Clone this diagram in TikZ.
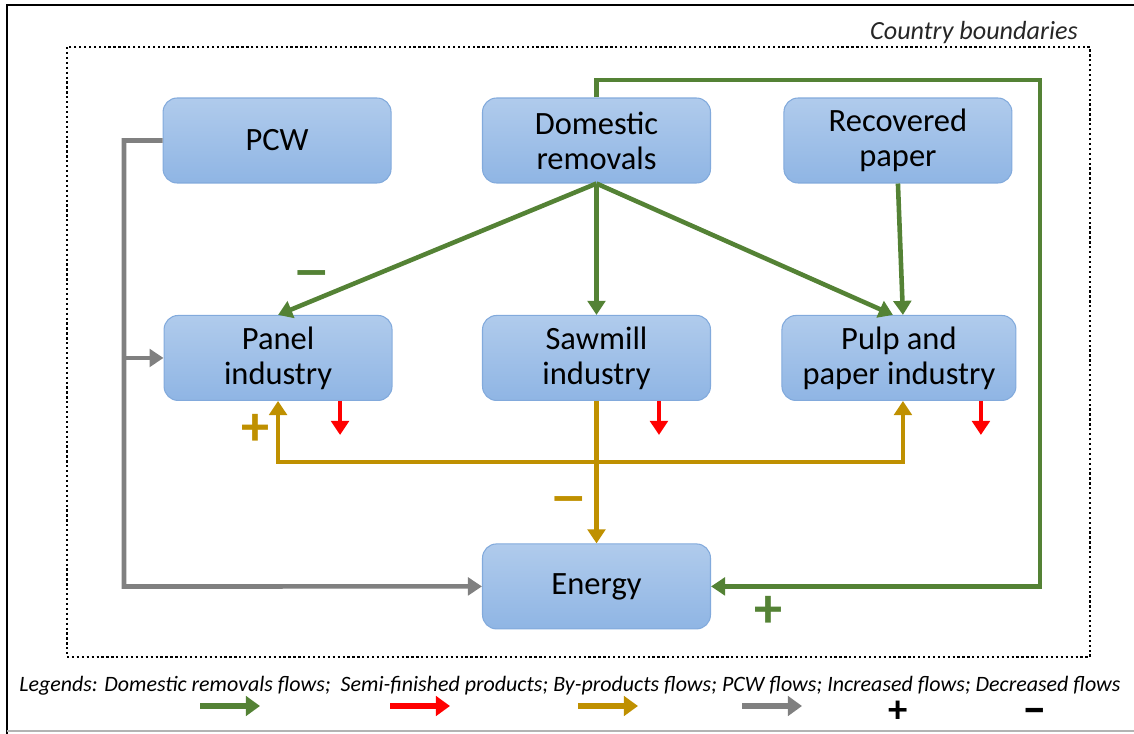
\documentclass[tikz,border=0pt]{standalone}
\usepackage{fontspec}
\setmainfont{Carlito}
\usetikzlibrary{arrows.meta}

\definecolor{boxtop}{RGB}{176,203,236}
\definecolor{boxbot}{RGB}{143,181,228}
\definecolor{boxline}{RGB}{130,170,220}
\definecolor{drgreen}{RGB}{84,130,53}
\definecolor{bygold}{RGB}{191,144,0}
\definecolor{pcwgray}{RGB}{128,128,128}

\begin{document}
\begin{tikzpicture}[x=0.02cm, y=-0.02cm, line width=2.6pt,
    >={Triangle[length=8pt,width=10pt]},
    sector/.style={rectangle, rounded corners=8pt, top color=boxtop, bottom color=boxbot,
        draw=boxline, line width=0.6pt, minimum width=4.56cm, minimum height=1.7cm,
        align=center, font=\fontsize{18.5}{20}\selectfont},
    dr flow/.style={draw=drgreen, ->},
    semi flow/.style={draw=red, ->},
    by flow/.style={draw=bygold, ->},
    pcw flow/.style={draw=pcwgray, ->},
    sign/.style={font=\fontsize{32}{32}\selectfont\bfseries, inner sep=0pt,
        text height=20pt, text depth=0pt},
    dash sign/.style={font=\fontsize{44}{44}\selectfont, inner sep=0pt,
        text height=26pt, text depth=0pt},
    key arrow/.style={line width=3.6pt, -{Triangle[length=8pt,width=11pt]}}]

    % frame and country boundaries
    \useasboundingbox (0,0) rectangle (1134,734);
    \draw[line width=1.6pt] (7,734) -- (7,5) -- (1134,5);
    \draw[pcwgray!60, line width=0.8pt] (7,731) -- (1134,731);
    \draw[line width=1.3pt, dash pattern=on 1.3pt off 1.5pt] (67,47) rectangle (1090,657);
    \node (bound) at (974,33) [font=\fontsize{14.9}{16}\selectfont\itshape, text=black!85] {Country boundaries};

    % sectors
    \node (dom) at (596.5,140.5) [sector] {Domestic\\removals};
    \node (pcw) [sector, left of=dom, node distance=6.39cm] {PCW};
    \node (rec) [sector, right of=dom, node distance=6.03cm] {Recovered\\paper};
    \node (saw) [sector, below of=dom, node distance=4.35cm] {Sawmill\\industry};
    \node (pan) [sector, left of=saw, node distance=6.37cm] {Panel\\industry};
    \node (pulp) [sector, right of=saw, node distance=6.05cm, minimum width=4.68cm] {Pulp and\\paper industry};
    \node (ener) [sector, below of=saw, node distance=4.57cm] {Energy};

    \coordinate (loop) at (1040,80);
    \coordinate (bus) at (124,586.5);
    \coordinate (byp) at (596.5,462);

    % domestic removals flows
    \draw[dr flow] (dom.south) -- (pan.north);
    \draw[dr flow] (dom.south) -- (saw.north);
    \draw[dr flow] (dom.south) -- ([xshift=-0.12cm]pulp.north);
    \draw[dr flow] (rec.south) -- ([xshift=0.08cm]pulp.north);
    \draw[dr flow] (dom.north) |- (loop) |- (ener.east);

    % PCW flows
    \draw[pcw flow] (pcw.west) -| (bus) -- (ener.west);
    \draw[pcw flow] (bus |- pan.west) -- (pan.west);

    % by-products flows
    \draw[by flow] (saw.south) -- (ener.north);
    \draw[by flow] (byp) -| (pan.south);
    \draw[by flow] (byp) -| ([xshift=0.08cm]pulp.south);

    % semi-finished products
    \foreach \n/\dx in {pan/1.24, saw/1.25, pulp/1.64}
        \draw[semi flow] ([xshift=\dx cm]\n.south) -- ++(0,34);

    % increased / decreased
    \node (dr minus) at (312,272) [dash sign, text=drgreen] {–};
    \node (by plus) at (256,428) [sign, text=bygold] {+};
    \node (by minus) at (569,498) [dash sign, text=bygold] {–};
    \node (dr plus) at (768,610) [sign, text=drgreen] {+};

    % legend
    \node (legend) at (17,686) [anchor=west, inner sep=0pt, font=\fontsize{12.5}{14}\selectfont\itshape]
        {Legends: Domestic removals flows;\ \ Semi-finished products; By-products flows; PCW flows; Increased flows; Decreased flows};
    \foreach \c/\x in {drgreen/200, red/390, bygold/578, pcwgray/742}
        \draw[key arrow, \c] (\x,706) -- ++(60,0);
    \node (key plus) at (898,711) [sign, font=\fontsize{22}{22}\selectfont\bfseries, text height=13pt] {+};
    \node (key minus) at (1035,710) [dash sign, font=\fontsize{28}{28}\selectfont\bfseries, text height=16pt] {–};
\end{tikzpicture}
\end{document}
